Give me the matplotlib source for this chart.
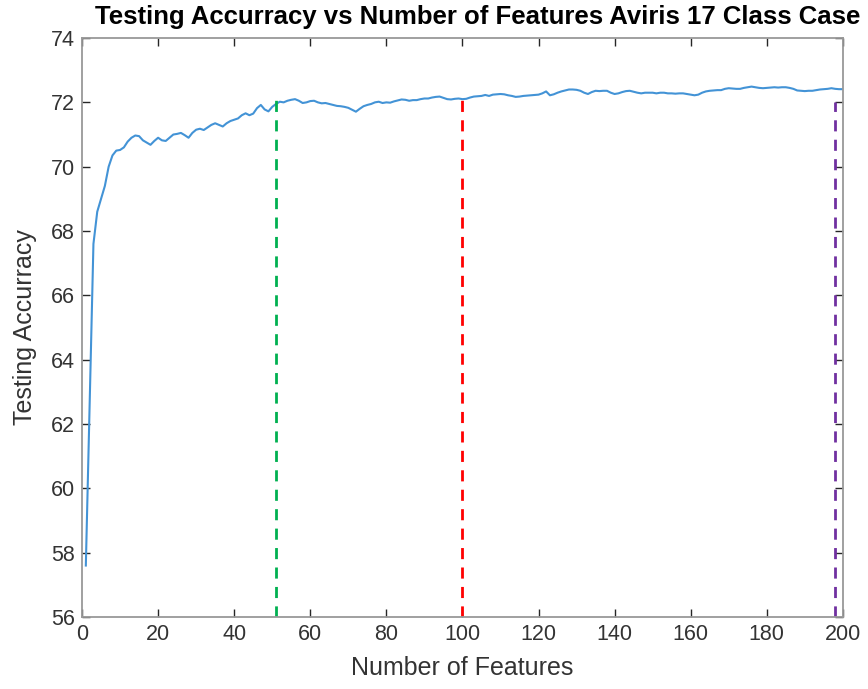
import numpy as np
import matplotlib
matplotlib.use("Agg")
import matplotlib.pyplot as plt

plt.rcParams['font.family'] = ['Liberation Sans', 'DejaVu Sans']

# testing accuracy, features 1..200
features = list(range(1, 201))
accuracy = [
    57.6, 62.6, 67.6, 68.6, 69.0, 69.4, 70.0, 70.35, 70.5, 70.52,
    70.6, 70.78, 70.9, 70.97, 70.95, 70.82, 70.75, 70.68, 70.8, 70.9,
    70.82, 70.8, 70.9, 71.0, 71.02, 71.05, 70.98, 70.9, 71.05, 71.15,
    71.18, 71.14, 71.22, 71.3, 71.35, 71.3, 71.25, 71.35, 71.42, 71.46,
    71.5, 71.6, 71.66, 71.6, 71.65, 71.82, 71.92, 71.78, 71.72, 71.86,
    71.95, 72.02, 72.0, 72.05, 72.08, 72.1, 72.05, 71.98, 72.0, 72.04,
    72.05, 72.0, 71.97, 71.98, 71.95, 71.92, 71.89, 71.88, 71.86, 71.83,
    71.77, 71.71, 71.8, 71.88, 71.92, 71.95, 72.0, 72.02, 71.98, 72.0,
    71.99, 72.03, 72.06, 72.09, 72.08, 72.05, 72.07, 72.07, 72.1, 72.12,
    72.12, 72.15, 72.17, 72.18, 72.14, 72.1, 72.09, 72.11, 72.12, 72.1,
    72.11, 72.15, 72.18, 72.19, 72.2, 72.23, 72.2, 72.24, 72.25, 72.26,
    72.25, 72.22, 72.2, 72.17, 72.18, 72.2, 72.21, 72.22, 72.23, 72.24,
    72.28, 72.34, 72.22, 72.25, 72.3, 72.34, 72.37, 72.4, 72.4, 72.39,
    72.36, 72.3, 72.26, 72.32, 72.36, 72.35, 72.36, 72.36, 72.3, 72.26,
    72.28, 72.32, 72.35, 72.36, 72.33, 72.3, 72.28, 72.3, 72.3, 72.3,
    72.28, 72.3, 72.3, 72.28, 72.28, 72.27, 72.28, 72.28, 72.26, 72.24,
    72.22, 72.24, 72.3, 72.34, 72.36, 72.37, 72.38, 72.38, 72.42, 72.44,
    72.43, 72.42, 72.42, 72.45, 72.47, 72.49, 72.47, 72.45, 72.44, 72.45,
    72.46, 72.47, 72.46, 72.47, 72.47, 72.45, 72.42, 72.37, 72.36, 72.35,
    72.36, 72.36, 72.38, 72.4, 72.41, 72.42, 72.44, 72.42, 72.41, 72.41,
]

# marker lines: feature count, top value, colour
mark_x = [51, 100, 198]
mark_top = [72.1, 72.1, 72.0]
mark_col = ['#00b050', '#ff0000', '#7030a0']

fig = plt.figure(figsize=(8.68, 6.89), dpi=100)
ax = fig.add_axes([0.0945, 0.1045, 0.8765, 0.8403])

ax.plot(features, accuracy, color='#4393d6', lw=1.5)
for x, top, c in zip(mark_x, mark_top, mark_col):
    ax.vlines(x, 56, top, colors=c, linestyles=(0, (4, 3)), lw=2)

ax.set_xlim(0, 200)
ax.set_ylim(56, 74)
ax.set_xticks(range(0, 201, 20))
ax.set_yticks(range(56, 75, 2))
ax.tick_params(direction='in', top=True, right=True, length=6, width=1,
               labelsize=15.5, colors='#262626', labelcolor='#333333', pad=5)
for s in ax.spines.values():
    s.set_color('#999999')
    s.set_linewidth(1.3)

ax.set_xlabel('Number of Features', fontsize=18, color='#333333', labelpad=8)
ax.set_ylabel('Testing Accurracy', fontsize=18, color='#333333', labelpad=10)
ax.set_title('Testing Accurracy vs Number of Features Aviris 17 Class Case',
             fontsize=18.5, fontweight='bold', x=0.52, pad=10)

fig.savefig('out.png', dpi=100)
